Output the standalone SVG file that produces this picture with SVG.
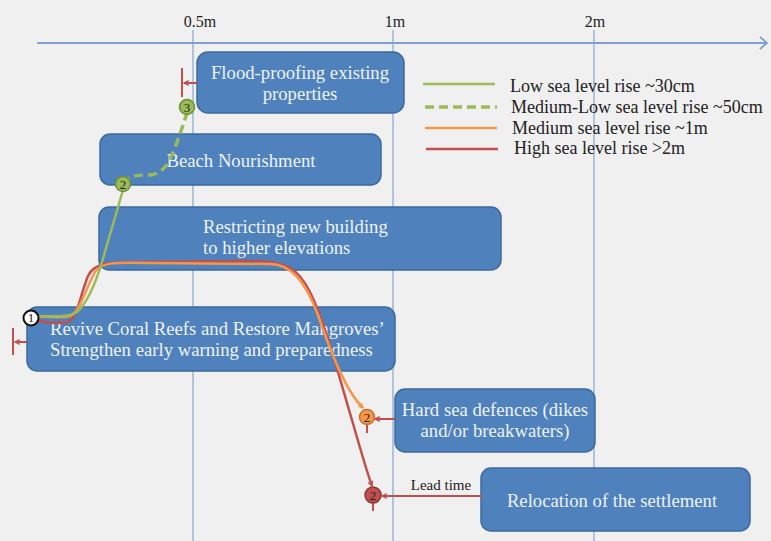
<svg xmlns="http://www.w3.org/2000/svg" width="771" height="541" viewBox="0 0 771 541">
<style>
.grid{stroke:#8eaad2;stroke-width:1.3;fill:none}
.box{fill:#4f81bd;stroke:#3d6a9e;stroke-width:1.5}
.bt{font-family:"Liberation Serif",serif;font-size:18.7px;fill:#eef3fa}
.lg{font-family:"Liberation Serif",serif;font-size:18px;fill:#222}
.ax{font-family:"Liberation Serif",serif;font-size:16px;fill:#222;text-anchor:middle}
.num{font-family:"Liberation Serif",serif;font-size:13px;fill:#222;text-anchor:middle}
.red{stroke:#c0504d;stroke-width:2.5;fill:none}
.tick{stroke:#c0504d;stroke-width:2;fill:none}
.org{stroke:#f79646;stroke-width:2.5;fill:none}
.grn{stroke:#9bbb59;stroke-width:2.5;fill:none}
.dash{stroke:#9bbb59;stroke-width:3.5;fill:none;stroke-dasharray:9 5}
</style>
<defs>
<marker id="ao" viewBox="0 0 10 10" refX="9" refY="5" markerWidth="6" markerHeight="6" orient="auto" markerUnits="userSpaceOnUse">
<path d="M1,1 L9,5 L1,9" fill="none" stroke="#f79646" stroke-width="2"/>
</marker>
<marker id="ar" viewBox="0 0 10 10" refX="9" refY="5" markerWidth="6" markerHeight="6" orient="auto" markerUnits="userSpaceOnUse">
<path d="M1,1 L9,5 L1,9" fill="none" stroke="#c0504d" stroke-width="2"/>
</marker>
</defs>
<rect width="771" height="541" fill="#f0f0f0"/>
<g id="axis">
<line class="grid" x1="193" y1="30" x2="193" y2="541"/>
<line class="grid" x1="393" y1="30" x2="393" y2="541"/>
<line class="grid" x1="594" y1="30" x2="594" y2="541"/>
<line x1="37" y1="43" x2="767" y2="43" stroke="#7fa0d0" stroke-width="2"/>
<path d="M760,37 L767,43 L760,49" fill="none" stroke="#7fa0d0" stroke-width="1.8"/>
<text class="ax" x="200" y="27">0.5m</text>
<text class="ax" x="395" y="27">1m</text>
<text class="ax" x="595" y="27">2m</text>
</g>
<g id="flood"><rect class="box" x="197" y="52" width="207" height="61" rx="11"/>
<text class="bt" x="300" y="79" text-anchor="middle">Flood-proofing existing</text>
<text class="bt" x="300" y="100" text-anchor="middle">properties</text></g>
<g id="beach"><rect class="box" x="100" y="134" width="281" height="51" rx="10"/>
<text class="bt" x="241" y="167" text-anchor="middle">Beach Nourishment</text></g>
<g id="restrict"><rect class="box" x="99" y="207" width="402" height="63" rx="10"/>
<text class="bt" x="203" y="233">Restricting new building</text>
<text class="bt" x="203" y="254">to higher elevations</text></g>
<g id="revive"><rect class="box" x="27" y="307" width="368" height="64" rx="10"/>
<text class="bt" x="50" y="335">Revive Coral Reefs and Restore Mangroves’</text>
<text class="bt" x="50" y="356">Strengthen early warning and preparedness</text></g>
<g id="hard"><rect class="box" x="395" y="389" width="200" height="63" rx="10"/>
<text class="bt" x="495" y="416" text-anchor="middle">Hard sea defences (dikes</text>
<text class="bt" x="495" y="437" text-anchor="middle">and/or breakwaters)</text></g>
<g id="reloc"><rect class="box" x="481" y="468" width="269" height="63" rx="10"/>
<text class="bt" x="612" y="507" text-anchor="middle">Relocation of the settlement</text></g>
<g id="legend">
<line class="grn" x1="423" y1="84" x2="495" y2="84" stroke-width="3"/>
<text class="lg" x="510" y="92">Low sea level rise ~30cm</text>
<line class="dash" x1="425" y1="107" x2="497" y2="107" stroke-width="3" stroke-dasharray="7 4"/>
<text class="lg" x="511" y="113">Medium-Low sea level rise ~50cm</text>
<line class="org" x1="425" y1="128" x2="497" y2="128" stroke-width="3"/>
<text class="lg" x="512" y="134">Medium sea level rise ~1m</text>
<line class="red" x1="426" y1="149" x2="498" y2="149" stroke-width="3"/>
<text class="lg" x="514" y="154">High sea level rise &gt;2m</text>
</g>
<g id="connectors">
<path class="red" d="M33,319 C42,323 60,324 68,322 C78,318 80,295 88,276 C94,262 110,262 150,262 L255,261 C285,261 298,268 310,292 C325,322 340,380 352,420 C362,455 369,478 372,486" marker-end="url(#ar)"/>
<path class="org" d="M33,316 C45,317 62,318 70,316 C80,312 85,290 95,272 C102,262 115,262 150,263 L270,264 C290,264 305,280 318,315 C330,350 345,390 363,408" marker-end="url(#ao)"/>
<path class="grn" d="M33,316 C50,316 68,318 77,312 C88,302 96,282 102,262 L123,190"/>
<path class="dash" d="M123,184 C128,176 135,175 150,175 C162,174 168,165 174,150 C180,135 184,122 187,113"/>
<line class="tick" x1="182" y1="68" x2="182" y2="97"/>
<line class="tick" x1="197" y1="83" x2="184" y2="83" marker-end="url(#ar)"/>
<line class="tick" x1="13" y1="328" x2="13" y2="355"/>
<line class="tick" x1="27" y1="342" x2="15" y2="342" marker-end="url(#ar)"/>
<line class="tick" x1="367" y1="423" x2="367" y2="433"/>
<line class="tick" x1="395" y1="419" x2="375" y2="419" marker-end="url(#ar)"/>
<line class="tick" x1="373" y1="502" x2="373" y2="511"/>
<line class="tick" x1="482" y1="496" x2="382" y2="496" marker-end="url(#ar)"/>
<text x="441" y="490" font-family="Liberation Serif,serif" font-size="15" fill="#222" text-anchor="middle">Lead time</text>
</g>
<g id="markers">
<circle cx="31" cy="318" r="7.5" fill="#fff" stroke="#111" stroke-width="2"/>
<text class="num" x="31" y="322">1</text>
<circle cx="187" cy="107" r="7.5" fill="#9bbb59" stroke="#6f8f35" stroke-width="1.5"/>
<text class="num" x="187" y="112">3</text>
<circle cx="123" cy="184" r="7.5" fill="#9bbb59" stroke="#6f8f35" stroke-width="1.5"/>
<text class="num" x="123" y="189">2</text>
<circle cx="367" cy="417" r="7.5" fill="#f79646" stroke="#c07030" stroke-width="1.5"/>
<text class="num" x="367" y="422">2</text>
<circle cx="373" cy="495" r="8" fill="#c0504d" stroke="#8e3533" stroke-width="1.5"/>
<text class="num" x="373" y="500">2</text>
</g>
</svg>
